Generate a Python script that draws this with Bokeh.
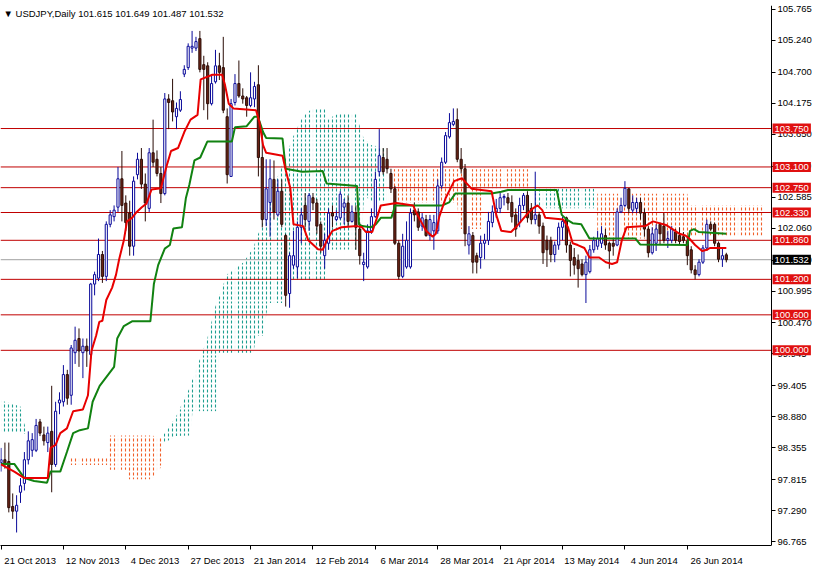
import numpy as np
from bokeh.plotting import figure
from bokeh.models import (FixedTicker, Range1d, Label, Grid, NumeralTickFormatter,
                          ColumnDataSource)
from bokeh.embed import file_html
from bokeh.resources import INLINE

# ---------------- data ----------------
symbol_title = "\u25bc USDJPY,Daily  101.615 101.649 101.487 101.532"
tick_bars = [0, 16, 32, 48, 64, 80, 96, 112, 128, 144, 160, 176]
tick_dates = ["21 Oct 2013", "12 Nov 2013", "4 Dec 2013", "27 Dec 2013", "21 Jan 2014",
              "12 Feb 2014", "6 Mar 2014", "28 Mar 2014", "21 Apr 2014", "13 May 2014",
              "4 Jun 2014", "26 Jun 2014"]
price_ticks = [96.765, 97.290, 97.815, 98.355, 98.880, 99.405, 99.945, 100.470, 100.995,
               101.520, 102.060, 102.585, 103.110, 103.650, 104.175, 104.700, 105.240, 105.765]

open_ = [98.10, 98.15, 98.12, 97.36, 97.28, 97.60, 97.75, 98.15, 98.31, 98.31,
         98.79, 98.57, 98.44, 98.63, 98.07, 99.11, 99.13, 99.59, 99.24, 99.96,
         100.20, 99.96, 100.07, 99.93, 101.12, 101.22, 101.62, 101.25, 102.13, 102.26,
         102.42, 102.90, 102.49, 102.32, 101.76, 102.97, 103.23, 102.81, 102.40, 103.34,
         103.23, 102.99, 102.65, 104.25, 104.22, 103.95, 104.06, 104.67, 104.78, 105.11,
         105.11, 105.27, 104.83, 104.81, 104.17, 104.54, 104.81, 104.78, 103.95, 102.94,
         104.19, 104.51, 104.30, 104.27, 104.14, 104.25, 104.49, 103.26, 102.21, 102.50,
         102.89, 102.29, 102.69, 101.94, 100.96, 101.44, 101.41, 102.08, 102.45, 102.18,
         102.58, 102.49, 102.13, 101.60, 101.81, 102.32, 102.21, 102.24, 102.42, 102.49,
         102.18, 102.32, 102.05, 101.45, 101.41, 102.02, 102.26, 103.02, 103.26, 103.23,
         102.99, 102.73, 101.81, 101.25, 101.41, 101.41, 102.37, 102.34, 102.10, 102.21,
         101.94, 102.02, 102.02, 102.78, 103.18, 103.61, 103.82, 103.90, 103.23, 103.07,
         101.78, 101.94, 101.60, 101.57, 101.81, 101.86, 102.16, 102.34, 102.40, 102.58,
         102.58, 102.50, 102.29, 102.16, 102.45, 102.62, 102.40, 102.21, 102.29, 102.10,
         101.86, 101.86, 101.62, 101.78, 102.08, 102.24, 101.78, 101.57, 101.52, 101.46,
         101.28, 101.33, 101.70, 101.76, 101.81, 101.94, 101.81, 101.81, 101.78, 102.34,
         102.45, 102.73, 102.37, 102.40, 102.50, 102.32, 102.05, 101.65, 101.81, 102.13,
         102.10, 101.86, 101.86, 102.00, 101.94, 101.92, 101.84, 101.70, 101.36, 101.28,
         101.49, 101.73, 102.13, 102.13, 101.81, 101.54, 101.615]
high = [98.35, 98.44, 98.44, 97.58, 97.55, 97.84, 98.28, 98.63, 98.60, 98.84,
        98.84, 98.71, 98.71, 99.40, 99.13, 99.29, 99.75, 99.67, 100.09, 100.40,
        100.37, 100.20, 100.20, 101.14, 101.33, 101.89, 101.68, 102.18, 102.37, 102.45,
        103.10, 103.37, 102.62, 102.53, 102.94, 103.34, 103.42, 102.99, 103.42, 103.90,
        103.38, 103.10, 104.35, 104.33, 104.59, 104.19, 104.38, 104.82, 105.19, 105.40,
        105.30, 105.40, 104.98, 104.87, 104.66, 105.08, 105.03, 105.30, 104.09, 104.25,
        104.67, 104.90, 104.43, 104.30, 104.70, 104.54, 104.82, 103.74, 103.23, 103.23,
        103.21, 102.89, 102.89, 101.97, 101.65, 102.02, 102.18, 102.40, 102.66, 102.66,
        102.66, 102.56, 102.18, 101.97, 102.40, 102.45, 102.37, 102.69, 102.56, 102.62,
        102.45, 102.45, 102.16, 101.65, 102.13, 102.40, 103.02, 103.74, 103.42, 103.42,
        103.07, 102.78, 101.86, 101.97, 102.18, 102.40, 102.50, 102.40, 102.32, 102.29,
        102.29, 102.29, 102.89, 103.26, 103.69, 104.01, 104.09, 104.09, 103.42, 103.15,
        102.10, 102.00, 101.65, 101.94, 101.97, 102.34, 102.45, 102.56, 102.66, 102.64,
        102.66, 102.62, 102.40, 102.58, 102.66, 102.69, 102.49, 103.02, 102.34, 102.16,
        101.94, 101.92, 101.84, 102.16, 102.26, 102.26, 101.84, 101.73, 101.62, 101.54,
        101.60, 101.78, 101.92, 102.02, 102.10, 102.05, 101.84, 101.89, 102.40, 102.58,
        102.86, 102.74, 102.62, 102.58, 102.58, 102.40, 102.10, 102.08, 102.13, 102.16,
        102.32, 102.02, 102.10, 102.05, 102.08, 102.00, 101.94, 101.76, 101.44, 101.54,
        101.78, 102.21, 102.18, 102.16, 101.84, 101.73, 101.649]
low = [97.95, 98.00, 97.26, 97.15, 96.92, 97.42, 97.63, 98.07, 98.20, 98.28,
       98.55, 98.39, 98.28, 97.60, 98.03, 98.92, 99.05, 99.08, 99.08, 99.77,
       99.72, 99.53, 99.72, 99.85, 100.93, 101.17, 101.14, 101.17, 102.08, 102.18,
       102.34, 102.18, 102.02, 101.60, 101.60, 102.89, 102.73, 102.18, 102.34, 103.10,
       102.94, 102.49, 102.62, 103.74, 103.87, 103.74, 104.03, 104.62, 104.74, 105.03,
       105.06, 104.70, 104.06, 103.90, 104.14, 104.51, 104.57, 104.01, 102.82, 102.94,
       104.14, 104.27, 104.17, 103.95, 104.11, 104.11, 102.94, 102.08, 102.10, 101.92,
       102.21, 102.26, 102.08, 100.74, 100.72, 101.38, 101.22, 101.81, 102.08, 102.02,
       102.37, 101.97, 101.65, 101.38, 101.70, 102.08, 102.18, 102.21, 102.13, 102.08,
       102.16, 101.70, 101.45, 101.17, 101.38, 101.97, 102.24, 102.94, 102.97, 102.99,
       102.66, 101.78, 101.20, 101.22, 101.38, 101.38, 102.18, 102.02, 102.02, 101.92,
       101.86, 101.70, 101.97, 102.73, 103.15, 103.58, 103.79, 103.18, 102.99, 101.76,
       101.62, 101.30, 101.30, 101.38, 101.54, 101.78, 102.08, 102.24, 102.32, 102.45,
       102.37, 102.16, 101.92, 102.08, 102.37, 102.16, 102.13, 102.13, 101.97, 101.46,
       101.41, 101.49, 101.49, 101.70, 101.86, 101.65, 101.25, 101.28, 101.06, 101.25,
       100.80, 101.30, 101.65, 101.70, 101.73, 101.70, 101.38, 101.60, 101.76, 102.32,
       102.42, 102.32, 102.32, 102.32, 102.21, 101.92, 101.57, 101.62, 101.68, 101.78,
       101.81, 101.73, 101.81, 101.81, 101.78, 101.81, 101.44, 101.30, 101.20, 101.25,
       101.46, 101.68, 102.02, 101.76, 101.49, 101.41, 101.487]
close = [98.15, 98.07, 97.34, 97.28, 97.38, 97.71, 98.15, 98.47, 98.49, 98.73,
         98.60, 98.47, 98.60, 98.07, 98.97, 99.16, 99.59, 99.19, 100.04, 100.17,
         99.99, 100.07, 99.99, 101.12, 101.28, 101.62, 101.25, 102.13, 102.29, 102.37,
         102.90, 102.45, 102.16, 101.76, 102.86, 103.23, 102.81, 102.49, 103.34, 103.18,
         102.99, 102.65, 104.25, 104.19, 104.03, 104.09, 104.24, 104.75, 105.14, 105.14,
         105.22, 104.75, 104.75, 104.17, 104.51, 104.81, 104.70, 104.06, 102.97, 104.17,
         104.51, 104.30, 104.25, 104.14, 104.27, 104.46, 103.26, 102.21, 102.73, 102.90,
         102.34, 102.69, 102.13, 100.93, 101.60, 101.60, 102.08, 102.29, 102.21, 102.62,
         102.49, 102.10, 101.76, 101.86, 102.32, 102.27, 102.26, 102.64, 102.49, 102.18,
         102.34, 102.08, 101.60, 101.49, 102.02, 102.26, 102.89, 103.29, 103.02, 103.07,
         102.73, 101.81, 101.25, 101.76, 101.86, 102.32, 102.29, 102.08, 102.24, 101.94,
         102.21, 102.16, 102.78, 103.18, 103.63, 103.85, 103.87, 103.23, 103.07, 101.97,
         101.97, 101.49, 101.49, 101.81, 101.86, 102.18, 102.34, 102.40, 102.58, 102.60,
         102.49, 102.26, 102.05, 102.45, 102.62, 102.24, 102.21, 102.29, 102.10, 101.65,
         101.70, 101.62, 101.78, 102.08, 102.18, 101.78, 101.52, 101.44, 101.38, 101.28,
         101.49, 101.70, 101.86, 101.89, 101.97, 101.78, 101.68, 101.76, 102.34, 102.45,
         102.74, 102.40, 102.50, 102.50, 102.32, 102.05, 101.65, 101.97, 102.05, 101.97,
         101.86, 101.89, 102.05, 101.86, 101.84, 101.86, 101.60, 101.36, 101.28, 101.49,
         101.73, 102.13, 102.05, 101.81, 101.54, 101.60, 101.532]

tenkan_bar = [0, 3.4, 6, 12, 12.7, 14, 15.2, 16.9, 18.5, 21, 22.3, 23.2, 24.4, 25.2, 26, 27,
              28.5, 29.5, 30.3, 31.5, 32.3, 33.6, 34.8, 36.1, 37.3, 38.6, 41, 42.4, 43.6,
              45.4, 47, 48.6, 50.4, 51.2, 54.2, 56.7, 57.4, 58.4, 59.6, 65.4, 66.3, 67.2,
              68, 72.2, 73, 74.2, 75, 77.5, 78.8, 81.3, 82.5, 83.8, 85, 87.3, 91.3, 92.6,
              93.6, 95.2, 96.4, 97.4, 101.4, 105.7, 106.4, 107.7, 109, 110.7, 111.5, 112.4,
              114, 116.2, 118.2, 120.7, 125.8, 127, 128.3, 130.8, 132, 134.1, 135.3, 136.6,
              137.6, 138.8, 139.6, 144.2, 145.4, 146.6, 147.9, 149.6, 150.9, 153.4, 155.1,
              156.7, 158, 159.2, 160.4, 165.2, 167.2, 170.5, 172.2, 174, 175.5, 176.5, 178,
              179.8, 181, 181.8, 186]
tenkan_val = [98.07, 97.95, 97.84, 97.84, 98.35, 98.40, 98.60, 98.68, 98.97, 99.00, 99.24,
              99.99, 100.25, 100.48, 100.50, 100.85, 101.06, 101.28, 101.54, 101.86, 102.18,
              102.24, 102.34, 102.42, 102.48, 102.72, 102.74, 103.10, 103.37, 103.42, 103.69,
              103.90, 103.98, 104.58, 104.66, 104.66, 104.50, 104.17, 104.09, 104.06, 103.85,
              103.47, 103.34, 103.29, 103.05, 102.74, 102.13, 102.10, 101.86, 101.71, 101.70,
              101.89, 102.02, 102.08, 102.10, 102.08, 102.00, 102.00, 102.24, 102.45, 102.49,
              102.45, 102.34, 102.18, 102.02, 101.92, 101.97, 102.26, 102.57, 102.86, 102.91,
              102.73, 102.69, 102.29, 102.02, 102.00, 102.08, 102.24, 102.33, 102.41, 102.45,
              102.37, 102.24, 102.21, 102.08, 101.81, 101.78, 101.73, 101.57, 101.57, 101.49,
              101.46, 101.49, 101.86, 102.08, 102.10, 102.18, 102.12, 102.05, 101.97, 101.94,
              101.89, 101.78, 101.68, 101.70, 101.73, 101.73]

kijun_bar = [0, 3.4, 6, 8.5, 11.8, 12.7, 15.2, 16.9, 18.5, 20.2, 22.3, 23.5, 25.3, 29, 29.8,
             31.5, 33.6, 38.3, 39.2, 40.3, 42, 43.3, 44.2, 46.4, 47.4, 48.3, 49.6, 51.1,
             52.9, 59.2, 60, 63, 65, 65.9, 67.2, 68, 72.2, 73, 77.2, 82.5, 83.5, 91.3,
             91.8, 92.6, 94.8, 96.1, 97.4, 100.1, 101.1, 113.2, 114.9, 116.5, 125.8, 128.3,
             130, 142.5, 143.8, 145.1, 146.6, 148.8, 150.9, 162.7, 163.9, 176, 176.7, 177.7,
             179, 186]
kijun_val = [98.08, 98.08, 97.84, 97.79, 97.76, 97.95, 97.95, 98.28, 98.60, 98.65, 98.68,
             99.13, 99.40, 99.72, 100.20, 100.41, 100.49, 100.49, 101.12, 101.44, 101.72,
             101.78, 102.06, 102.08, 102.57, 102.80, 103.21, 103.26, 103.53, 103.53, 103.77,
             103.79, 103.95, 103.95, 103.69, 103.59, 103.58, 103.07, 103.02, 103.03, 102.82,
             102.78, 102.13, 102.10, 102.08, 102.13, 102.24, 102.24, 102.45, 102.45, 102.50,
             102.65, 102.65, 102.68, 102.71, 102.71, 102.29, 102.21, 102.15, 102.13, 101.89,
             101.89, 101.79, 101.78, 102.02, 102.05, 102.00, 101.97]

# Ichimoku cloud, one list per visible region (bar, upper span, lower span)
teal_bar = [[0, 5, 6.5],
            [41.8, 42.1, 44.8, 48.6, 49.1, 52.9, 55.4, 55.9, 57.9, 62.2, 64.7, 65.5, 67.2,
             68.5, 69.7, 72.2, 73, 74.7, 77.3, 79.8, 83, 83.8, 85.6, 87.3, 91.3, 92.3,
             93.1, 94.8, 98.9],
            [136.3, 152.1]]
teal_top = [[99.15, 99.05, 98.62],
            [98.58, 98.62, 98.87, 99.40, 99.51, 100.20, 100.85, 100.90, 101.28, 101.49,
             101.73, 101.89, 102.18, 102.45, 102.73, 103.15, 103.26, 103.58, 103.95, 104.09,
             104.09, 103.90, 103.98, 104.01, 104.01, 103.69, 103.58, 103.47, 103.42],
            [102.73, 102.73]]
teal_bot = [[98.60, 98.60, 98.58],
            [98.46, 98.44, 98.55, 98.56, 98.97, 98.97, 98.97, 99.96, 99.96, 99.96, 99.96,
             100.24, 100.24, 100.80, 100.80, 100.80, 101.17, 101.17, 101.17, 101.17, 101.17,
             101.68, 101.68, 101.68, 101.68, 101.68, 102.62, 102.53, 102.50],
            [102.40, 102.40]]
orange_bar = [[17.5, 27.3, 27.8, 32.3, 32.8, 38.6, 41.6],
              [99.4, 117.0, 117.5, 123.2, 123.7, 135.3],
              [152.9, 176.0, 176.5, 195.4]]
orange_top = [[98.18, 98.18, 98.56, 98.56, 98.56, 98.56, 98.52],
              [103.06, 103.06, 103.06, 103.06, 103.06, 103.06],
              [102.65, 102.65, 102.45, 102.45]]
orange_bot = [[98.06, 98.06, 97.98, 97.98, 97.82, 97.82, 98.07],
              [102.50, 102.50, 102.05, 102.05, 102.74, 102.74],
              [101.89, 101.89, 101.94, 101.94]]

level_values = [103.750, 103.100, 102.750, 102.330, 101.860, 101.200, 100.600, 100.000]
last_price = 101.532

# ---------------- figure ----------------
X0, X1 = -0.13, 197.6      # visible bars; the price scale sits at X1
X2 = 208.1                 # frame continues under the price scale labels
Y0, Y1 = 96.70, 105.83
FONT = "Liberation Sans"
FS = "9.5px"

p = figure(width=812, height=568, x_range=Range1d(X0, X2), y_range=Range1d(Y0, Y1),
           output_backend="svg", toolbar_location=None, y_axis_location="right",
           x_axis_location="below")
p.min_border_left = 0
p.min_border_top = 5
p.min_border_bottom = 0
p.min_border_right = 0
p.outline_line_color = None
p.background_fill_color = "white"
p.border_fill_color = "white"
p.grid.visible = False

# cloud (dotted look: coloured bands seen through a white screen)
for xs_l, tp_l, bt_l, col in [(teal_bar, teal_top, teal_bot, "#1e9e90"),
                              (orange_bar, orange_top, orange_bot, "#f0602a")]:
    pxs, pys = [], []
    for xs, tp, bt in zip(xs_l, tp_l, bt_l):
        pxs.append(list(xs) + list(xs)[::-1])
        pys.append(list(tp) + list(bt)[::-1])
    r = p.patches(pxs, pys, fill_color=col, line_color=None)
    r.level = "image"

screen_v = Grid(dimension=0, ticker=FixedTicker(ticks=[i + 0.5 for i in range(-2, 200)]),
                grid_line_color="white", grid_line_width=2.9)
screen_h = Grid(dimension=1, ticker=FixedTicker(ticks=list(np.arange(Y0, Y1 + 0.1, 0.083))),
                grid_line_color="white", grid_line_width=2.0)
screen_v.level = "underlay"
screen_h.level = "underlay"
p.add_layout(screen_v)
p.add_layout(screen_h)

# horizontal levels (up to the price scale)
nlev = len(level_values)
p.segment(x0=[X0] * nlev, y0=level_values, x1=[X1] * nlev, y1=level_values,
          line_color="#c00000", line_width=1)
p.segment(x0=[X0], y0=[last_price], x1=[X1], y1=[last_price],
          line_color="#a0a0a0", line_width=1)

# candles
o = np.array(open_); h = np.array(high); l = np.array(low); c = np.array(close)
x = np.arange(len(o))
up = c >= o
src_up = ColumnDataSource(dict(x=x[up], h=h[up], l=l[up], top=c[up], bot=o[up]))
src_dn = ColumnDataSource(dict(x=x[~up], h=h[~up], l=l[~up], top=o[~up], bot=c[~up]))
p.segment("x", "h", "x", "l", source=src_up, line_color="#0a0a9a", line_width=1)
p.segment("x", "h", "x", "l", source=src_dn, line_color="#2a0c06", line_width=1)
p.vbar(x="x", width=0.55, top="top", bottom="bot", source=src_up,
       fill_color="white", line_color="#0a0a9a", line_width=1)
p.vbar(x="x", width=0.55, top="top", bottom="bot", source=src_dn,
       fill_color="#6e2416", line_color="#2a0c06", line_width=1)

# Ichimoku lines
p.line(kijun_bar, kijun_val, line_color="#118211", line_width=2)
p.line(tenkan_bar, tenkan_val, line_color="#e80000", line_width=2)

# price scale: right-side axis drawn at X1
ya = p.yaxis[0]
ya.fixed_location = X1
ya.ticker = FixedTicker(ticks=price_ticks)
ya.formatter = NumeralTickFormatter(format="0.000")
ya.major_tick_in = 0
ya.major_tick_out = 4
ya.minor_tick_out = 0
ya.minor_tick_in = 0
ya.axis_line_color = "black"
ya.major_tick_line_color = "black"
ya.major_label_text_font = FONT
ya.major_label_text_font_size = FS
ya.major_label_text_color = "black"
ya.major_label_standoff = 2

# time scale: small marks at the bars (minor ticks), labels set right of each mark
label_pos = [b + 7.5 for b in tick_bars]
xa = p.xaxis[0]
xa.bounds = (X0, X1)
xa.ticker = FixedTicker(ticks=label_pos, minor_ticks=tick_bars)
xa.major_label_overrides = {b: d for b, d in zip(label_pos, tick_dates)}
xa.major_tick_line_color = None
xa.major_tick_in = 0
xa.major_tick_out = 0
xa.minor_tick_in = 0
xa.minor_tick_out = 4
xa.minor_tick_line_color = "black"
xa.axis_line_color = "black"
xa.major_label_standoff = 5
xa.major_label_text_font = FONT
xa.major_label_text_font_size = FS
xa.major_label_text_color = "black"

# price tags over the scale
for lv in level_values:
    p.add_layout(Label(x=X1, y=lv, x_offset=1, text=f"{lv:.3f}", text_baseline="middle",
                       text_align="left", text_color="white", text_font=FONT,
                       text_font_size=FS, background_fill_color="#e01010", padding=2))
p.add_layout(Label(x=X1, y=last_price, x_offset=1, text=f"{last_price:.3f}",
                   text_baseline="middle", text_align="left", text_color="white",
                   text_font=FONT, text_font_size=FS, background_fill_color="black",
                   padding=2))

p.add_layout(Label(x=X0, y=Y1, x_offset=3, y_offset=-2, text=symbol_title,
                   text_baseline="top", text_align="left", text_color="black",
                   text_font=FONT, text_font_size=FS))

open("out.html", "w").write(file_html(p, INLINE))
